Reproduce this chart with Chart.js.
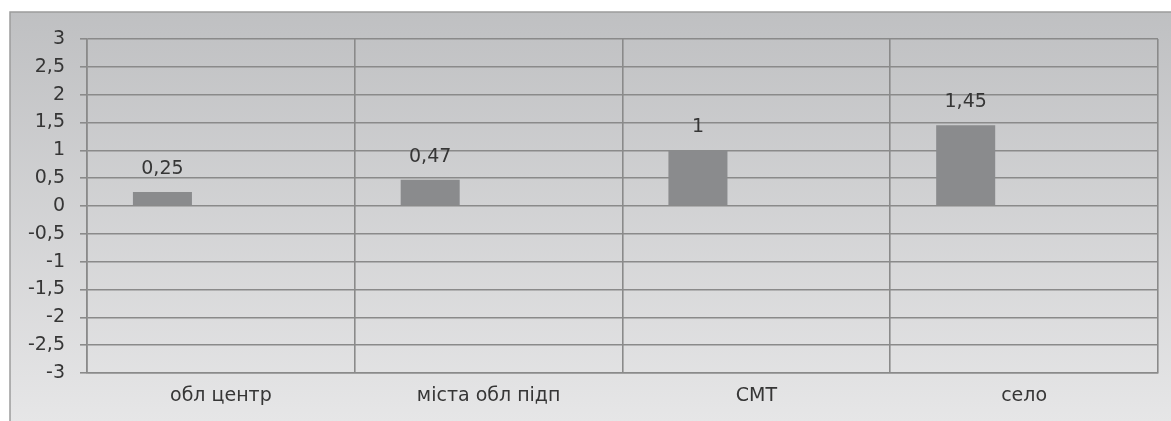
<!DOCTYPE html>
<html>
<head>
<meta charset="utf-8">
<script src="https://cdn.jsdelivr.net/npm/chart.js@4/dist/chart.umd.min.js"></script>
<style>
  html, body { margin: 0; padding: 0; background: #ffffff; }
  #wrap { width: 1171px; height: 421px; position: relative; }
</style>
</head>
<body>
<div id="wrap"><canvas id="c" width="1171" height="421"></canvas></div>
<script>
const categories = ["обл центр", "міста обл підп", "СМТ", "село"];
const values = [0.25, 0.47, 1, 1.45];
const emptySeries = [null, null, null, null];
const yTickValues = [-3, -2.5, -2, -1.5, -1, -0.5, 0, 0.5, 1, 1.5, 2, 2.5, 3];

const fmt = v => String(v).replace('.', ',');
const FONT = "'DejaVu Sans', sans-serif";
const TEXT = '#363636';
const GRID = '#8a8a8a';

const bgPlugin = {
  id: 'bg',
  beforeDraw(chart) {
    const ctx = chart.ctx;
    ctx.save();
    ctx.fillStyle = '#ffffff';
    ctx.fillRect(0, 0, chart.width, chart.height);
    const g = ctx.createLinearGradient(0, 12, 0, 421);
    g.addColorStop(0, '#bfc0c2');
    g.addColorStop(1, '#e6e6e7');
    ctx.fillStyle = g;
    ctx.fillRect(10, 12, chart.width, chart.height);
    ctx.strokeStyle = '#9c9c9c';
    ctx.lineWidth = 1.5;
    ctx.beginPath();
    ctx.moveTo(10, chart.height + 2);
    ctx.lineTo(10, 12);
    ctx.lineTo(chart.width + 2, 12);
    ctx.stroke();
    ctx.restore();
  }
};

const labelPlugin = {
  id: 'vals',
  afterDatasetsDraw(chart) {
    const ctx = chart.ctx;
    const meta = chart.getDatasetMeta(0);
    ctx.save();
    ctx.font = '19px ' + FONT;
    ctx.fillStyle = TEXT;
    ctx.textAlign = 'center';
    ctx.textBaseline = 'middle';
    meta.data.forEach((bar, i) => {
      const v = chart.data.datasets[0].data[i];
      if (v === null) return;
      ctx.fillText(fmt(v), bar.x, bar.y - 23);
    });
    ctx.restore();
  }
};

new Chart(document.getElementById('c'), {
  type: 'bar',
  data: {
    labels: categories,
    datasets: [
      { data: values, backgroundColor: '#8a8b8d', borderWidth: 0,
        categoryPercentage: 0.873, barPercentage: 0.505 },
      { data: emptySeries, backgroundColor: '#b0b0b0', borderWidth: 0,
        categoryPercentage: 0.873, barPercentage: 0.505 }
    ]
  },
  options: {
    responsive: false,
    animation: false,
    devicePixelRatio: 1,
    layout: { padding: { left: 0, top: 39, right: 13, bottom: 0 } },
    plugins: { legend: { display: false }, tooltip: { enabled: false } },
    scales: {
      x: {
        grid: { color: GRID, lineWidth: 1.6, drawTicks: false, offset: true },
        border: { color: GRID, width: 1.6 },
        ticks: { color: TEXT, font: { family: FONT, size: 19 }, padding: 12, maxRotation: 0 },
        afterFit(scale) { scale.height = 48; }
      },
      y: {
        min: -3, max: 3,
        afterBuildTicks(scale) { scale.ticks = yTickValues.map(v => ({ value: v })); },
        grid: { color: GRID, lineWidth: 1.6, tickLength: 7 },
        border: { color: GRID, width: 1.6 },
        ticks: { color: TEXT, font: { family: FONT, size: 19 }, padding: 15,
                 callback: v => fmt(v) },
        afterFit(scale) { scale.width = 87; }
      }
    }
  },
  plugins: [bgPlugin, labelPlugin]
});
</script>
</body>
</html>
